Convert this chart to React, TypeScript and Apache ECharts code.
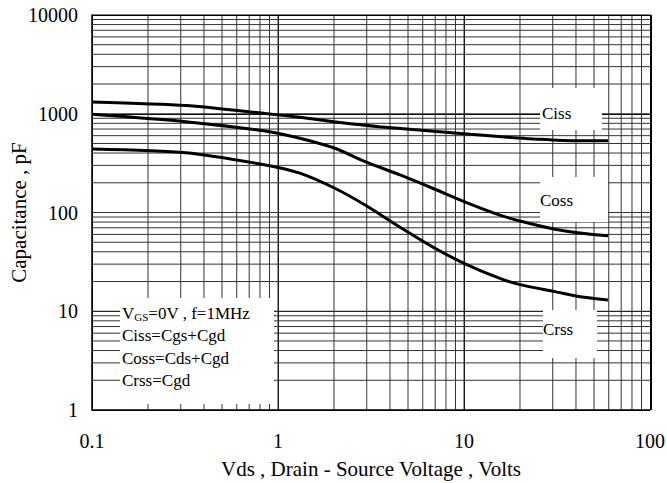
import React, { useEffect, useRef } from "react";
import * as echarts from "echarts";

const xGrid = [0.2, 0.3, 0.4, 0.5, 0.6, 0.7, 0.8, 0.9, 1, 2, 3, 4, 5, 6, 7, 8, 9, 10, 20, 30, 40, 50, 60, 70, 80, 90];
const yGrid = [2, 3, 4, 5, 6, 7, 8, 9, 10, 20, 30, 40, 50, 60, 70, 80, 90, 100, 200, 300, 400, 500, 600, 700, 800, 900, 1000, 2000, 3000, 4000, 5000, 6000, 7000, 8000, 9000];

const cissData = [[0.1, 1315], [0.32, 1210], [0.9, 994], [1.31, 920], [2, 830], [3.5, 739], [7.4, 658], [10.8, 619], [16, 585], [25.6, 551], [40.5, 532], [59.5, 533]];
const cossData = [[0.1, 987], [0.32, 831], [0.9, 658], [1.31, 564], [2.02, 447], [2.94, 327], [4.53, 240], [6.98, 172], [10, 129], [15.6, 94], [20, 82], [30.8, 67.6], [42, 62], [59.5, 58]];
const crssData = [[0.1, 440], [0.32, 403], [0.9, 298], [1.31, 250], [2.02, 176], [2.94, 119], [4.53, 71], [6.98, 43.5], [10, 30.6], [15.6, 21.5], [20, 18.6], [30.8, 15.8], [42, 14], [59.5, 13]];

const FONT = "Liberation Serif";

export default function App() {
  const ref = useRef<HTMLDivElement>(null);
  useEffect(() => {
    if (!ref.current) return;
    const chart = echarts.init(ref.current, null, { renderer: "svg" });
    const gridLineV = (params: any, api: any) => {
      const v = api.value(0);
      const p1 = api.coord([v, 1]);
      const p2 = api.coord([v, 10000]);
      return { type: "line", shape: { x1: p1[0], y1: p1[1], x2: p2[0], y2: p2[1] }, style: { stroke: "#333", lineWidth: 1 } };
    };
    const gridLineH = (params: any, api: any) => {
      const v = api.value(1);
      const p1 = api.coord([0.1, v]);
      const p2 = api.coord([100, v]);
      return { type: "line", shape: { x1: p1[0], y1: p1[1], x2: p2[0], y2: p2[1] }, style: { stroke: "#333", lineWidth: 1 } };
    };
    const curve = (name: string, data: number[][]) => ({
      name,
      type: "line",
      data,
      smooth: 0.25,
      symbol: "none",
      lineStyle: { color: "#000", width: 3 },
      z: 5,
    });
    const txt = (x: number, y: number, text: string) => ({
      type: "text", z: 51, x, y,
      style: { text, fontFamily: FONT, fontSize: 17, fill: "#000", verticalAlign: "middle" },
    });
    chart.setOption({
      animation: false,
      backgroundColor: "#fff",
      grid: { left: 92, top: 15, right: 17, bottom: 73, containLabel: false, outerBoundsMode: "none" },
      xAxis: {
        type: "log",
        logBase: 10,
        min: 0.1,
        max: 100,
        name: "Vds , Drain - Source Voltage , Volts",
        nameLocation: "middle",
        nameGap: 48,
        nameMoveOverlap: false,
        nameTextStyle: { fontFamily: FONT, fontSize: 21, color: "#000" },
        axisLine: { show: true, onZero: false, lineStyle: { color: "#000", width: 1.5 } },
        axisTick: { show: false },
        axisLabel: { fontFamily: FONT, fontSize: 20, color: "#000", margin: 21, formatter: (v: number) => String(v) },
        splitLine: { show: true, lineStyle: { color: "#000", width: 1 } },
      },
      yAxis: {
        type: "log",
        logBase: 10,
        min: 1,
        max: 10000,
        name: "Capacitance , pF",
        nameLocation: "middle",
        nameGap: 63,
        nameMoveOverlap: false,
        nameTextStyle: { fontFamily: FONT, fontSize: 21, color: "#000" },
        axisLine: { show: true, onZero: false, lineStyle: { color: "#000", width: 1.5 } },
        axisTick: { show: false },
        axisLabel: { fontFamily: FONT, fontSize: 20, color: "#000", margin: 14, formatter: (v: number) => String(v) },
        splitLine: { show: true, lineStyle: { color: "#000", width: 1 } },
      },
      series: [
        { type: "custom", data: xGrid.map((v) => [v, 1]), renderItem: gridLineV, encode: { x: 0, y: 1 }, silent: true, z: 1 },
        { type: "custom", data: yGrid.map((v) => [0.1, v]), renderItem: gridLineH, encode: { x: 0, y: 1 }, silent: true, z: 1 },
        curve("Ciss", cissData),
        curve("Coss", cossData),
        curve("Crss", crssData),
      ],
      graphic: [
        { type: "rect", z: 50, shape: { x: 650.5, y: 15, width: 1.5, height: 395 }, style: { fill: "#000" } },
        { type: "rect", z: 50, shape: { x: 92, y: 14.5, width: 559, height: 1.5 }, style: { fill: "#000" } },
        { type: "rect", z: 50, shape: { x: 120, y: 298, width: 154, height: 106 }, style: { fill: "#fff" } },
        {
          type: "text", z: 51, x: 122, y: 313,
          style: {
            text: "V{sub|GS}=0V , f=1MHz", fontFamily: FONT, fontSize: 17, fill: "#000", verticalAlign: "middle",
            rich: { sub: { fontFamily: FONT, fontSize: 11, verticalAlign: "bottom", padding: [7, 0, 0, 0] } },
          },
        },
        txt(122, 335, "Ciss=Cgs+Cgd"),
        txt(122, 358, "Coss=Cds+Cgd"),
        txt(122, 380, "Crss=Cgd"),
        { type: "rect", z: 50, shape: { x: 540, y: 88, width: 62, height: 42 }, style: { fill: "#fff" } },
        txt(542, 113, "Ciss"),
        { type: "rect", z: 50, shape: { x: 540, y: 177, width: 68, height: 45 }, style: { fill: "#fff" } },
        txt(540, 200, "Coss"),
        { type: "rect", z: 50, shape: { x: 543, y: 310, width: 54, height: 48 }, style: { fill: "#fff" } },
        txt(543, 329, "Crss"),
      ],
    });
    return () => chart.dispose();
  }, []);
  return <div ref={ref} style={{ width: 667, height: 483, position: "absolute", left: 0, top: 0 }} />;
}
